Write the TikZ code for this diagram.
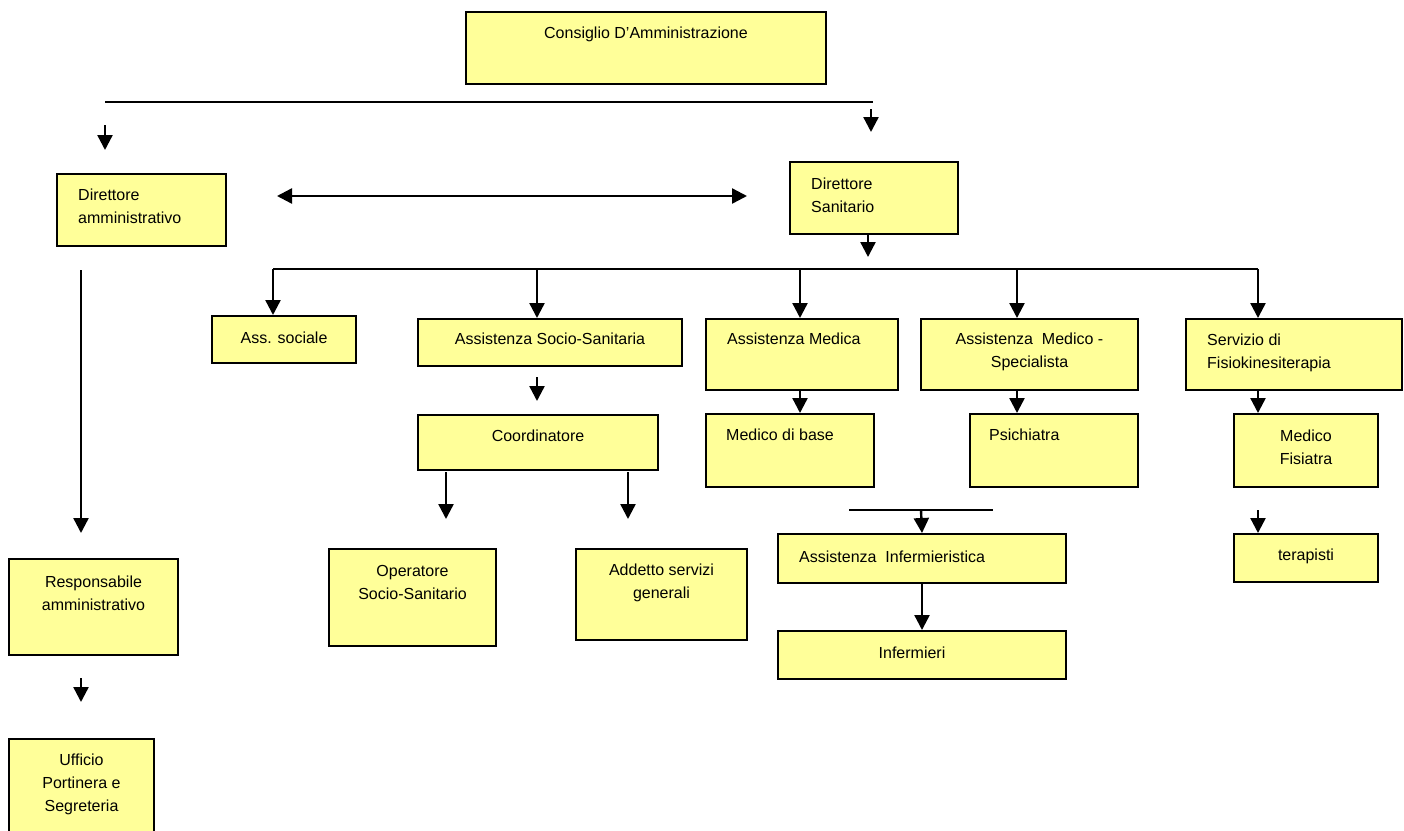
\documentclass[tikz,border=0pt]{standalone}
\usepackage{fontspec}
\setmainfont{Liberation Sans}
\usetikzlibrary{arrows.meta}
\definecolor{boxyellow}{RGB}{255,255,153}
\tikzset{
  box/.style={draw=black, fill=boxyellow, line width=2pt, inner sep=0pt, anchor=north west},
  lbl/.style={font=\fontsize{16}{23}\selectfont, inner sep=0pt},
  ctext/.style={lbl, anchor=north, yshift=-16pt, align=center},
  ltext/.style={lbl, anchor=north west, xshift=22pt, yshift=-16pt, align=left},
  link/.style={line width=2.4pt},
}

\begin{document}
\begin{tikzpicture}[x=1pt, y=-1pt, >={Triangle[width=15pt,length=15pt]}]
\clip (0,0) rectangle (1404,830);
\fill[white] (0,0) rectangle (1404,830);

%top
\node[box, minimum width=360, minimum height=72, label={[ctext]north:Consiglio D’Amministrazione}] (cda) at (465,11) {};
\node[box, minimum width=169, minimum height=72, label={[ltext]north west:Direttore\\amministrativo}] (dam) at (56,173) {};
\node[box, minimum width=168, minimum height=72, label={[ltext, yshift=-1]north west:Direttore\\Sanitario}] (dsa) at (789,161) {};

%second row
\node[box, minimum width=144, minimum height=47, label={[ctext, yshift=-1]north:Ass. sociale}] (ass) at (211,315) {};
\node[box, minimum width=264, minimum height=47, label={[ctext, yshift=1]north:Assistenza Socio-Sanitaria}] (ssa) at (417,318) {};
\node[box, minimum width=192, minimum height=71, label={[ltext, yshift=1]north west:Assistenza Medica}] (ame) at (705,318) {};
\node[box, minimum width=217, minimum height=71, label={[ctext, yshift=1]north:Assistenza\ \ Medico -\\Specialista}] (ams) at (920,318) {};
\node[box, minimum width=216, minimum height=71, label={[ltext]north west:Servizio di\\Fisiokinesiterapia}] (sfk) at (1185,318) {};

%third row
\node[box, minimum width=240, minimum height=55, label={[ctext]north:Coordinatore}] (coo) at (417,414) {};
\node[box, minimum width=168, minimum height=73, label={[ltext, xshift=-1]north west:Medico di base}] (mdb) at (705,413) {};
\node[box, minimum width=168, minimum height=73, label={[ltext, xshift=-2]north west:Psichiatra}] (psi) at (969,413) {};
\node[box, minimum width=144, minimum height=73, label={[ctext, yshift=-1]north:Medico\\Fisiatra}] (mfi) at (1233,413) {};

%lower rows
\node[box, minimum width=167, minimum height=97, label={[ctext, yshift=-1]north:Operatore\\Socio-Sanitario}] (oss) at (328,548) {};
\node[box, minimum width=171, minimum height=91, label={[ctext]north:Addetto servizi\\generali}] (asg) at (575,548) {};
\node[box, minimum width=288, minimum height=49, label={[ltext, yshift=-2]north west:Assistenza\ \ Infermieristica}] (ain) at (777,533) {};
\node[box, minimum width=288, minimum height=48, label={[ctext, xshift=-10, yshift=-1]north:Infermieri}] (inf) at (777,630) {};
\node[box, minimum width=144, minimum height=48, label={[ctext]north:terapisti}] (ter) at (1233,533) {};
\node[box, minimum width=169, minimum height=96, label={[ctext, yshift=-2]north:Responsabile\\amministrativo}] (rsa) at (8,558) {};
\node[box, minimum width=145, minimum height=100, label={[ctext]north:Ufficio\\Portinera e\\Segreteria}] (upr) at (8,738) {};

%free ends
\coordinate (busL) at (105,102);   \coordinate (busR) at (873,102);
\coordinate (a1s) at (105,125);    \coordinate (a1e) at (105,150);
\coordinate (a2s) at (871,109);    \coordinate (a2e) at (871,132);
\coordinate (dbl) at (277,196);    \coordinate (dbr) at (747,196);
\coordinate (dse) at (868,257);
\coordinate (t1) at (273,269);     \coordinate (t2) at (537,269);
\coordinate (t3) at (800,269);     \coordinate (t4) at (1017,269);
\coordinate (t5) at (1258,269);
\coordinate (cs) at (537,377);     \coordinate (ce) at (537,401);
\coordinate (o1s) at (446,472);    \coordinate (o1e) at (446,519);
\coordinate (o2s) at (628,472);    \coordinate (o2e) at (628,519);
\coordinate (ibL) at (849,510);    \coordinate (ibR) at (993,510);
\coordinate (ib) at (921,510);
\coordinate (ts) at (1258,510);
\coordinate (vs) at (81,270);      \coordinate (ve) at (81,533);
\coordinate (ws) at (81,678);      \coordinate (we) at (81,702);

%lines
\draw[link] (busL) -- (busR);
\draw[link,->] (a1s) -- (a1e);
\draw[link,->] (a2s) -- (a2e);
\draw[link,<->] (dbl) -- (dbr);
\draw[link,->] (dsa.south -| dse) -- (dse);
\draw[link] (t1) -- (t5);
\draw[link,->] (t1) -- (t1 |- ass.north);
\draw[link,->] (t2) -- (t2 |- ssa.north);
\draw[link,->] (t3) -- (t3 |- ame.north);
\draw[link,->] (t4) -- (t4 |- ams.north);
\draw[link,->] (t5) -- (t5 |- sfk.north);
\draw[link,->] (cs) -- (ce);
\draw[link,->] (o1s) -- (o1e);
\draw[link,->] (o2s) -- (o2e);
\draw[link,->] (t3 |- ame.south) -- (t3 |- mdb.north);
\draw[link,->] (t4 |- ams.south) -- (t4 |- psi.north);
\draw[link,->] (t5 |- sfk.south) -- (t5 |- mfi.north);
\draw[link,->] (ts) -- (ts |- ter.north);
\draw[link] (ibL) -- (ibR);
\draw[link,->] (ib) -- (ain.north);
\draw[link,->] (ain.south) -- (inf.north);
\draw[link,->] (vs) -- (ve);
\draw[link,->] (ws) -- (we);
\end{tikzpicture}
\end{document}
